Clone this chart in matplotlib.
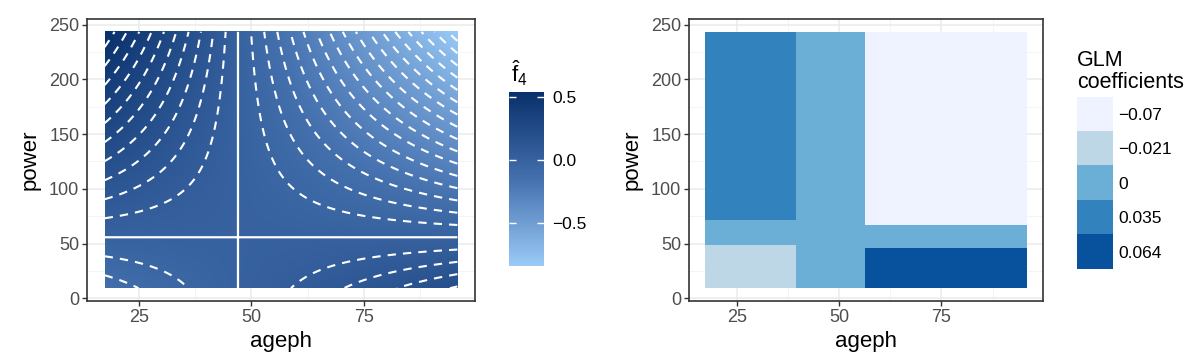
import numpy as np
import matplotlib
matplotlib.use("Agg")
import matplotlib.pyplot as plt
from matplotlib.colors import LinearSegmentedColormap, ListedColormap

plt.rcParams['font.family'] = ['Liberation Sans', 'DejaVu Sans']
plt.rcParams['mathtext.fontset'] = 'custom'
plt.rcParams['mathtext.rm'] = 'Liberation Sans'
plt.rcParams['mathtext.it'] = 'Liberation Sans'
plt.rcParams['lines.dashed_pattern'] = [4.0, 3.4]

# ---------------- data ----------------
# Left panel: fitted interaction surface f4 read at grid nodes (ageph x power)
surf_ageph = [17.4, 47.0, 95.7]
surf_power = [9.3, 55.8, 243.4]
surf_f4 = [[-0.134, 0.0, 0.207],     # power = 9.3
           [0.0, 0.0, 0.0],          # power = 55.8
           [0.54, 0.0, -0.837]]      # power = 243.4
contour_step = 0.05
f4_ticks = [-0.5, 0.0, 0.5]
f4_ticklabels = ['\u22120.5', '0.0', '0.5']

# Right panel: GLM coefficient bins
glm_ageph_edges = [17.2, 39.5, 56.4, 95.9]
glm_power_edges = [[9.3, 48.3, 71.5, 243.4],
                   [9.3, 243.4],
                   [9.3, 45.8, 67.0, 243.4]]
glm_coef = [[-0.021, 0.0, 0.035],
            [0.0],
            [0.064, 0.0, -0.07]]
glm_colors = ['#EFF3FF', '#BDD7E7', '#6BAED6', '#3182BD', '#08519C']

x_ticks = [25, 50, 75]
y_ticks = [0, 50, 100, 150, 200, 250]
x_minor = [37.5, 62.5, 87.5]
y_minor = [25, 75, 125, 175, 225]

# ---------------- figure ----------------
W, H = 1200, 363
fig = plt.figure(figsize=(W / 100, H / 100), dpi=100)

ax1 = fig.add_axes([87 / W, (H - 301) / H, 388 / W, 282 / H])
ax2 = fig.add_axes([689 / W, (H - 301) / H, 354 / W, 282 / H])

# surface on a fine grid (bilinear between the read nodes)
xs = np.linspace(surf_ageph[0], surf_ageph[-1], 400)
ys = np.linspace(surf_power[0], surf_power[-1], 400)
def basis(nodes, v):
    eye = np.eye(len(nodes))
    return np.array([np.interp(v, nodes, eye[i]) for i in range(len(nodes))])
Z = basis(surf_power, ys).T @ np.array(surf_f4) @ basis(surf_ageph, xs)

cmap = LinearSegmentedColormap.from_list('f4', ['#9ACAF7', '#4470AE', '#08306B'])
vmin, vmax = Z.min(), Z.max()
im = ax1.imshow(Z, extent=[xs[0], xs[-1], ys[0], ys[-1]], origin='lower',
                aspect='auto', cmap=cmap, vmin=vmin, vmax=vmax,
                interpolation='bilinear', zorder=1)
lv = np.round(np.arange(np.floor(vmin / contour_step) * contour_step,
                        vmax + 1e-9, contour_step), 3)
lv_nz = [l for l in lv if abs(l) > 1e-9]
ax1.contour(xs, ys, Z, levels=lv_nz, colors='white', linewidths=1.5,
            linestyles='dashed', zorder=2)
ax1.contour(xs, ys, Z, levels=[0.0], colors='white', linewidths=1.6,
            linestyles='solid', zorder=2)

def expand(a, b, f=0.05):
    r = b - a
    return a - f * r, b + f * r

ax1.set_xlim(*expand(surf_ageph[0], surf_ageph[-1]))
ax1.set_ylim(*expand(surf_power[0], surf_power[-1]))

# right panel tiles
levels_sorted = sorted({c for col in glm_coef for c in col})
for i in range(len(glm_ageph_edges) - 1):
    x0, x1 = glm_ageph_edges[i], glm_ageph_edges[i + 1]
    edges = glm_power_edges[i]
    for j, c in enumerate(glm_coef[i]):
        ax2.bar(x0, edges[j + 1] - edges[j], width=x1 - x0, bottom=edges[j],
                align='edge', color=glm_colors[levels_sorted.index(c)],
                linewidth=0, zorder=1)
ax2.set_xlim(*expand(glm_ageph_edges[0], glm_ageph_edges[-1]))
ax2.set_ylim(*expand(glm_power_edges[0][0], glm_power_edges[0][-1]))

for ax in (ax1, ax2):
    ax.set_xticks(x_ticks)
    ax.set_yticks(y_ticks)
    ax.set_xticks(x_minor, minor=True)
    ax.set_yticks(y_minor, minor=True)
    ax.set_axisbelow(True)
    ax.grid(which='major', color='#EBEBEB', linewidth=1.1)
    ax.grid(which='minor', color='#F3F3F3', linewidth=0.6)
    ax.tick_params(which='major', length=3.5, width=1.0, color='#333333',
                   labelcolor='#4D4D4D', labelsize=13, pad=2)
    ax.tick_params(which='minor', length=0)
    for s in ax.spines.values():
        s.set_color('#333333')
        s.set_linewidth(1.2)
    ax.set_xlabel('ageph', fontsize=16, labelpad=4)
    ax.set_ylabel('power', fontsize=16, labelpad=6)

# left colourbar
cax = fig.add_axes([509 / W, (H - 266) / H, 35 / W, 174.3 / H])
cb = fig.colorbar(im, cax=cax, ticks=f4_ticks)
cb.outline.set_visible(False)
cb.set_ticklabels(f4_ticklabels)
cax.tick_params(axis='y', which='both', left=True, right=True, labelleft=False,
                labelright=True, direction='in', length=5, width=1,
                color='white', labelcolor='black', labelsize=12.5, pad=6)
cax.minorticks_off()
fig.text(511 / W, 1 - 82 / H, r'$\hat{\mathrm{f}}_4$', fontsize=16,
         ha='left', va='baseline')

# right legend (discrete keys)
lax = fig.add_axes([1077 / W, (H - 269.2) / H, 36 / W, 172.7 / H])
lax.imshow(np.arange(len(levels_sorted)).reshape(-1, 1),
           cmap=ListedColormap(glm_colors), aspect='auto', origin='upper',
           interpolation='nearest')
lax.set_xticks([])
lax.set_yticks(range(len(levels_sorted)))
lax.set_yticklabels([f'{v:g}'.replace('-', '\u2212') for v in levels_sorted])
lax.yaxis.tick_right()
lax.tick_params(axis='y', length=0, labelsize=12.5, pad=4)
for s in lax.spines.values():
    s.set_visible(False)
fig.text(1077 / W, 1 - 88 / H, 'GLM\ncoefficients', fontsize=15.5,
         ha='left', va='baseline', linespacing=1.05)

fig.savefig('out.png', dpi=100)
